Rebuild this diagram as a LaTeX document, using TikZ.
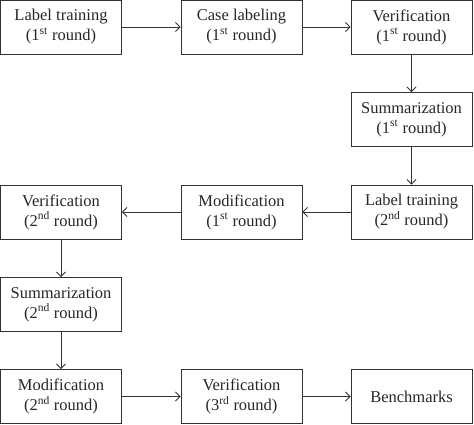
\documentclass[tikz,border=0pt]{standalone}
\usepackage{fontspec}
\setmainfont{Liberation Serif}
\usetikzlibrary{arrows.meta}
\begin{document}
\begin{tikzpicture}[x=1pt,y=-1pt,
  box/.style={draw=black!80,line width=0.9pt,minimum width=121pt,minimum height=54pt,inner sep=0pt,align=center,font=\fontsize{16.5}{20}\selectfont,text=black!85},
  arr/.style={draw=black!80,line width=0.9pt,-{Straight Barb[length=4.5pt,width=9pt,line width=0.9pt]}}]
\useasboundingbox (0,0) rectangle (474,425);
\node[box] (a) at (61,27) {Label training\\(1\textsuperscript{st} round)};
\node[box] (b) at (241.5,27) {Case labeling\\(1\textsuperscript{st} round)};
\node[box] (c) at (411.5,27) {Verification\\(1\textsuperscript{st} round)};
\node[box] (d) at (411.5,119.5) {Summarization\\(1\textsuperscript{st} round)};
\node[box] (e) at (411.5,212) {Label training\\(2\textsuperscript{nd} round)};
\node[box] (f) at (241.5,212) {Modification\\(1\textsuperscript{st} round)};
\node[box] (g) at (61,212) {Verification\\(2\textsuperscript{nd} round)};
\node[box] (h) at (61,304.5) {Summarization\\(2\textsuperscript{nd} round)};
\node[box] (i) at (61,396.5) {Modification\\(2\textsuperscript{nd} round)};
\node[box] (j) at (241.5,396.5) {Verification\\(3\textsuperscript{rd} round)};
\node[box] (k) at (411.5,396.5) {Benchmarks};
\draw[arr] (a) -- (b);
\draw[arr] (b) -- (c);
\draw[arr] (c) -- (d);
\draw[arr] (d) -- (e);
\draw[arr] (e) -- (f);
\draw[arr] (f) -- (g);
\draw[arr] (g) -- (h);
\draw[arr] (h) -- (i);
\draw[arr] (i) -- (j);
\draw[arr] (j) -- (k);
\end{tikzpicture}
\end{document}
